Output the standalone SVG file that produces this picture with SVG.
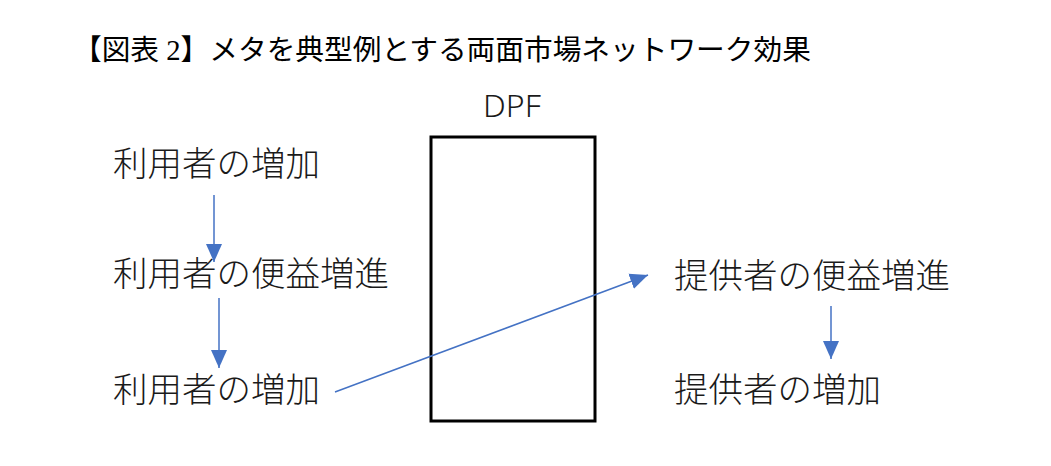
<svg xmlns="http://www.w3.org/2000/svg" width="1051" height="466" viewBox="0 0 1051 466">
  <style>
    .title { font-family: "Liberation Serif", "Noto Sans CJK JP", serif; font-size: 28.7px; fill: #000; }
    .lbl { font-family: "Noto Sans CJK JP", "Noto Sans", sans-serif; font-size: 34.5px; font-weight: 300; fill: #1a1a1a; }
    .dpf { font-family: "Noto Sans", "Liberation Sans", sans-serif; font-size: 32px; font-weight: 300; fill: #1a1a1a; }
    .conn { stroke: #4472C4; stroke-width: 1.5; fill: none; }
  </style>
  <defs>
    <marker id="ah" markerUnits="userSpaceOnUse" markerWidth="18" markerHeight="18" viewBox="0 0 18 16" refX="18" refY="8" orient="auto">
      <path d="M0,0 L18,8 L0,16 z" fill="#4472C4"/>
    </marker>
  </defs>
  <rect width="1051" height="466" fill="#ffffff"/>
  <g id="title">
    <text class="title" x="73" y="60">【図表 2】メタを典型例とする両面市場ネットワーク効果</text>
  </g>
  <g id="dpf">
    <text class="dpf" x="512" y="117" text-anchor="middle">DPF</text>
    <rect x="431" y="137" width="164" height="284" fill="none" stroke="#000" stroke-width="3"/>
  </g>
  <g id="user-increase-1">
    <text class="lbl" x="113" y="176">利用者の増加</text>
  </g>
  <g id="user-benefit">
    <text class="lbl" x="113" y="286">利用者の便益増進</text>
  </g>
  <g id="user-increase-2">
    <text class="lbl" x="113" y="402">利用者の増加</text>
  </g>
  <g id="provider-benefit">
    <text class="lbl" x="674" y="288">提供者の便益増進</text>
  </g>
  <g id="provider-increase">
    <text class="lbl" x="674" y="402">提供者の増加</text>
  </g>
  <g id="connectors">
    <line class="conn" x1="214" y1="195" x2="214" y2="262" marker-end="url(#ah)"/>
    <line class="conn" x1="219" y1="298" x2="219" y2="368" marker-end="url(#ah)"/>
    <line class="conn" x1="335" y1="392" x2="648" y2="275" marker-end="url(#ah)"/>
    <line class="conn" x1="831" y1="306" x2="831" y2="359" marker-end="url(#ah)"/>
  </g>
</svg>
